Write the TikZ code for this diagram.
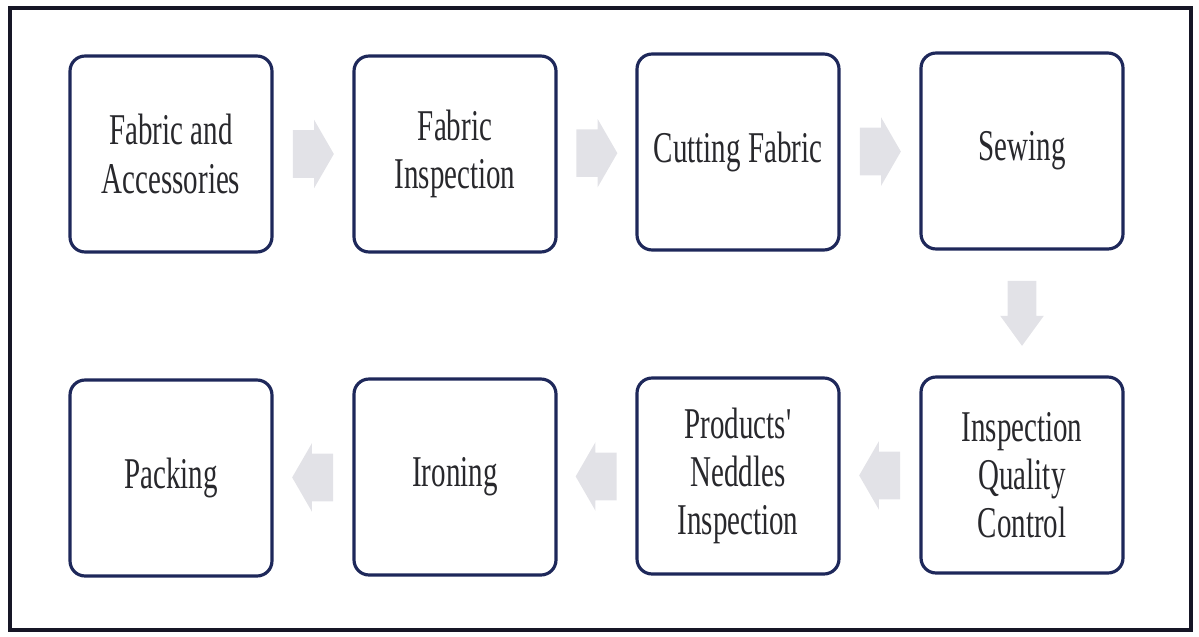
\documentclass[tikz,border=0pt]{standalone}
\usepackage{fontspec}
\usepackage{tikz}
\usetikzlibrary{shapes.arrows,calc}
\newfontfamily\boxfont[FakeStretch=0.66]{Liberation Serif}
\definecolor{boxnavy}{RGB}{30,40,90}
\definecolor{framenavy}{RGB}{22,22,38}
\definecolor{arrowgray}{RGB}{226,226,231}
\definecolor{textgray}{RGB}{40,40,44}

\begin{document}
\begin{tikzpicture}[x=0.02cm,y=-0.02cm,
	stepbox/.style={draw=boxnavy,line width=1.8pt,rounded corners=0.3cm,minimum width=4.04cm,minimum height=3.92cm,align=center,text=textgray,font=\boxfont\fontsize{25}{27.5}\selectfont},
	flowarrow/.style={single arrow,fill=arrowgray,draw=none,anchor=tail,inner xsep=0pt,inner ysep=0.47cm,minimum height=0.82cm,single arrow head extend=0.21cm,single arrow tip angle=120}]
	\useasboundingbox (0,0) rectangle (1199,636);
	\draw[line width=2.3pt,framenavy] (10,8) rectangle (1191,630);
	% process steps
	\foreach \n/\x/\y/\txt in {fab/171/154/{Fabric and\\Accessories},insp/455/154/{Fabric\\Inspection},cut/738/152/{Cutting Fabric},sew/1022/151/{Sewing},pack/171/478/{Packing},iron/455/477/{Ironing},ned/738/476/{Products'\\Neddles\\Inspection},qc/1022/475/{Inspection\\Quality\\Control}}
	\node[stepbox] (\n) at (\x,\y) {\txt};
	% arrows between steps
	\foreach \a/\b/\r in {fab/insp/0,insp/cut/0,cut/sew/0,qc/ned/180,ned/iron/180,iron/pack/180}
	\node[flowarrow,rotate=\r] at ($(\a)!0.5!(\b)!0.41cm!(\a)$) {};
	\node[flowarrow,rotate=-90,inner ysep=0.28cm,minimum height=1.3cm,single arrow head extend=0.15cm,single arrow tip angle=72] at ($(sew)!0.5!(qc)!0.65cm!(sew)$) {};
\end{tikzpicture}
\end{document}
